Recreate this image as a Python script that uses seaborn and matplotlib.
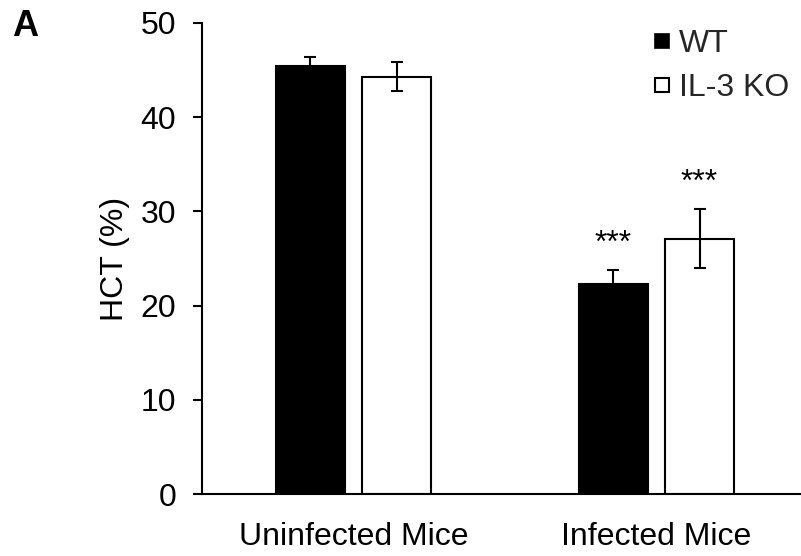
import matplotlib
matplotlib.use("Agg")
import matplotlib.pyplot as plt
import seaborn as sns
import pandas as pd
from matplotlib.lines import Line2D

categories = ["Uninfected Mice", "Infected Mice"]
genotypes = ["WT", "IL-3 KO"]
wt_mean = [45.4, 22.3]
ko_mean = [44.3, 27.1]
wt_err = [1.0, 1.5]
ko_err = [1.55, 3.15]
stars = [["", "***"], ["", "***"]]  # per genotype, per category
yticks = [0, 10, 20, 30, 40, 50]

sns.set_theme(style="white")
plt.rcParams["font.family"] = ["Liberation Sans", "DejaVu Sans"]

df = pd.DataFrame({
    "Group": categories * 2,
    "Genotype": [genotypes[0]] * 2 + [genotypes[1]] * 2,
    "HCT": wt_mean + ko_mean,
})

fig = plt.figure(figsize=(8.01, 5.56), dpi=100)
ax = fig.add_axes([202 / 801, 1 - 494 / 556, 1 - 202 / 801, (494 - 23) / 556])

sns.barplot(data=df, x="Group", y="HCT", hue="Genotype", order=categories,
            hue_order=genotypes, palette=["black", "white"], errorbar=None,
            width=0.568, gap=0.208, edgecolor="black", linewidth=1.5,
            legend=False, ax=ax, saturation=1)

means = [wt_mean, ko_mean]
errs = [wt_err, ko_err]
bar_containers = list(ax.containers)
for gi, cont in enumerate(bar_containers):
    for ci, bar in enumerate(cont):
        xc = bar.get_x() + bar.get_width() / 2
        ax.errorbar(xc, means[gi][ci], yerr=errs[gi][ci], color="black",
                    capsize=4.5, capthick=1.5, elinewidth=1.5, zorder=5)
        if stars[gi][ci]:
            ax.text(xc, means[gi][ci] + errs[gi][ci] + 2.8, stars[gi][ci],
                    ha="center", va="center", fontsize=23, color="black")

ax.set_ylim(0, 50)
ax.set_xlim(-0.5, 1.477)
ax.set_yticks(yticks)
ax.set_yticklabels([str(t) for t in yticks])
ax.tick_params(axis="y", direction="out", length=6.5, width=1.5, pad=12,
               labelsize=23, left=True, colors="black")
ax.tick_params(axis="x", length=0, pad=20, labelsize=23, colors="black")
ax.set_xlabel("")
ax.set_ylabel("HCT (%)", fontsize=23, labelpad=8, color="black")
for s in ["top", "right"]:
    ax.spines[s].set_visible(False)
for s in ["left", "bottom"]:
    ax.spines[s].set_linewidth(1.5)
    ax.spines[s].set_color("black")

handles = [
    Line2D([], [], marker="s", linestyle="", markersize=10, markerfacecolor="black",
           markeredgecolor="black", markeredgewidth=1.2),
    Line2D([], [], marker="s", linestyle="", markersize=9.5, markerfacecolor="white",
           markeredgecolor="black", markeredgewidth=1.5),
]
ax.legend(handles, genotypes, loc="upper left", frameon=False, fontsize=23,
          handlelength=0.6, handletextpad=0.25, labelspacing=0.45,
          borderpad=0, borderaxespad=0,
          bbox_to_anchor=(652 / 801, 1 - 29 / 556), bbox_transform=fig.transFigure)

fig.text(12 / 801, 1 - 9 / 556, "A", fontsize=26, fontweight="bold",
         ha="left", va="top", color="black")

fig.savefig("out.png", dpi=100)
